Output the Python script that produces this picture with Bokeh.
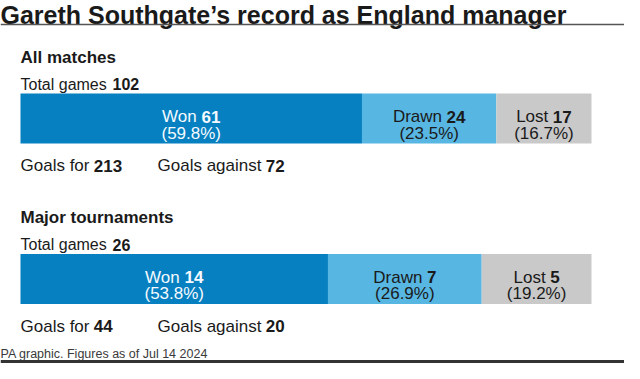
from bokeh.plotting import figure
from bokeh.models import Range1d, ColumnDataSource
from bokeh.core.properties import value
from bokeh.embed import file_html
from bokeh.resources import INLINE

# ---------------- data ----------------
TITLE = "Gareth Southgate\u2019s record as England manager"
FOOTER = "PA graphic. Figures as of Jul 14 2024"
SECTIONS = ["All matches", "Major tournaments"]
OUTCOMES = ["Won", "Drawn", "Lost"]
ALL_MATCHES = [61, 24, 17]
MAJOR_TOURNAMENTS = [14, 7, 5]
GOALS_FOR = [213, 44]
GOALS_AGAINST = [72, 20]

# ---------------- style ----------------
COLORS = ["#0680c0", "#58b6e2", "#c9c9c9"]
LABEL_COLORS = ["#f4faff", "#1a1a1a", "#1a1a1a"]
TEXT = "#1a1a1a"
FONT = "Liberation Sans"

W, H = 624, 363
BAR_X0, BAR_W = 20, 571
GA_X = 157

# Arial / Liberation Sans advance widths (per 1000 em)
REG = {" ": 265, "(": 333, ")": 333, "%": 889, ".": 278, "A": 667, "D": 722,
       "G": 778, "L": 556, "T": 611, "W": 944, "a": 556, "c": 500, "e": 556,
       "f": 278, "g": 556, "i": 222, "l": 222, "m": 833, "n": 556, "o": 556,
       "r": 333, "s": 500, "t": 278, "u": 556, "w": 722, "h": 556}
BOLD = {" ": 265}


def tw(s, size, bold=False):
    table = BOLD if bold else REG
    return sum(table.get(ch, 556) for ch in s) / 1000.0 * size


p = figure(width=W, height=H, x_range=Range1d(0, W), y_range=Range1d(H, 0),
           output_backend="svg", toolbar_location=None, min_border=0,
           x_axis_type=None, y_axis_type=None)
p.grid.visible = False
p.outline_line_color = None
p.background_fill_color = "white"
p.border_fill_color = "white"


def txt(x, y, s, size, color=TEXT, bold=False, align="left"):
    p.text(x=[x], y=[y], text=[s], text_font=value(FONT),
           text_font_size=f"{size}px",
           text_font_style="bold" if bold else "normal",
           text_color=color, text_baseline="alphabetic", text_align=align)


def rich(x, y, parts, size, color=TEXT, align="left"):
    total = sum(tw(t, size, b) for t, b in parts)
    if align == "center":
        x = x - total / 2.0
    for t, b in parts:
        if t.strip():
            txt(x, y, t.rstrip(), size, color, b)
        x += tw(t, size, b)


# title + rule
txt(0, 14, TITLE, 25, "#1a1a1a", bold=True)
p.segment(x0=[0], x1=[W], y0=[24], y1=[24], line_color="#555555", line_width=1.6)

# sections
bases = [56.5, 217]
for si, (name, vals) in enumerate(zip(SECTIONS, [ALL_MATCHES, MAJOR_TOURNAMENTS])):
    base = bases[si]
    total = sum(vals)
    txt(20, base, name, 17, TEXT, bold=True)
    rich(20, base + 27, [("Total games ", False), (str(total), True)], 16)

    top = base + 36.5
    bottom = base + 86.5
    lefts, rights = [], []
    cum = 0
    for v in vals:
        lefts.append(BAR_X0 + BAR_W * cum / total)
        cum += v
        rights.append(BAR_X0 + BAR_W * cum / total)
    src = ColumnDataSource(dict(left=lefts, right=rights,
                                top=[top] * 3, bottom=[bottom] * 3,
                                color=COLORS))
    p.quad(left="left", right="right", top="top", bottom="bottom",
           fill_color="color", line_color=None, source=src)

    for k, (lab, v) in enumerate(zip(OUTCOMES, vals)):
        cx = (lefts[k] + rights[k]) / 2.0
        rich(cx, top + 23, [(lab + " ", False), (str(v), True)], 17,
             LABEL_COLORS[k], align="center")
        pct = 100.0 * v / total
        txt(cx, top + 39.5, f"({pct:.1f}%)", 17, LABEL_COLORS[k], align="center")

    gy = bottom + 22
    rich(20, gy, [("Goals for ", False), (str(GOALS_FOR[si]), True)], 17)
    rich(GA_X, gy, [("Goals against ", False), (str(GOALS_AGAINST[si]), True)], 17)

# footer
txt(0, 353.5, FOOTER, 12.5, "#3a3a3a")
p.quad(left=[0], right=[W], top=[359.5], bottom=[363], fill_color="#333333", line_color=None)

open("out.html", "w").write(file_html(p, INLINE))
